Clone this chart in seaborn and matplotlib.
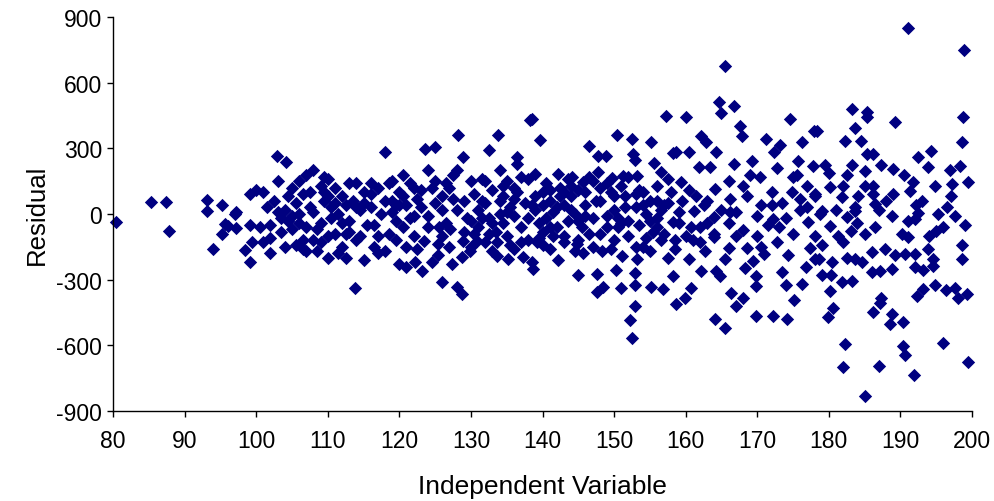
import matplotlib
matplotlib.use("Agg")
import matplotlib.pyplot as plt
import seaborn as sns
import pandas as pd

# ---- data (independent variable, residual) ----
x_a = [80.4, 85.3, 87.4, 87.8, 93.2, 93.1, 94, 95.2, 95.6, 96.1, 95.2, 97.1, 97.2, 97.2, 99.1, 99.2, 98.4, 99.2, 99.4, 100]
r_a = [-35, 56, 56, -78, 65, 15, -160, 41, -46, -53, -91, 1, 9, -64, -50, 91, -163, -218, -128, 110]

x_b = [100.5, 101, 101.5, 102, 102, 102.5, 102.9, 103, 103.5, 104.1, 104, 104.5, 104.5, 105, 105, 105.5, 105.5, 106, 106,
       106.5, 106.5, 107, 107, 107.5, 107.5, 108, 108, 108.5, 108.5, 109, 109, 109.5, 109.5, 110, 110, 110, 110.5, 110.5,
       111, 111, 111.5, 111.5, 112, 112, 112.5, 112.5, 113, 113, 113.5, 113.8, 114, 114, 114.5, 114.5, 115, 115, 115.5,
       101, 103, 105, 107, 109, 111, 113, 115, 117, 119, 118, 116, 114, 112, 110, 108, 106, 104, 102]
r_b = [-60, -130, 30, -50, -110, 60, 266, 10, -80, 236, -150, 80, -30, 120, -10, 50, -140, 150, 0,
       -120, 90, 180, -60, 100, 30, 200, 10, -170, -70, 130, -40, 60, 170, -200, 160, -100, 30, -20,
       -90, 120, 0, -180, -150, 80, -200, 40, 140, -30, 60, -338, 140, -120, -100, 20, -210, 100, -50,
       100, 150, -70, -170, -130, 50, -80, 50, -100, 60, -170, 140, 30, -40, 80, -120, -40, 20, -180]

x_c = [116, 116.5, 116.5, 117, 117, 117.5, 118, 118, 118.5, 118.5, 119, 119, 119.5, 119.5, 120, 120, 120, 120.5, 120.5,
       121, 121, 121.5, 121.5, 122, 122, 122.2, 122.5, 123, 123.2, 123.4, 123.6, 124, 124, 124.5, 124.5, 125, 125, 125.4,
       125.4, 125.9, 126, 126, 126.5, 127, 127.1, 127.3, 127.5, 128, 128, 128.2, 128.7, 128.7, 128.9, 128.9, 129, 129.5,
       129.9, 130, 130]
r_c = [30, -50, -150, 120, -180, 0, 285, 60, -90, 140, 150, 10, -30, -120, 100, -228, 40, 180, -60,
       -240, 40, 140, -20, -100, -10, -218, 70, 30, -259, -125, 297, 200, -60, -218, 120, 306, 150, -137,
       -187, -309, 80, 20, -40, 120, -68, -228, 180, -333, 200, 361, -365, -198, 260, -122, 60, -20,
       -168, 150, -30]

x_d = [130.5, 130.8, 131, 131, 131.5, 132, 132, 132.5, 132.5, 133, 133.5, 133.6, 133.6, 133.8, 134, 134, 134.5, 134.5,
       135, 135, 135.2, 135.5, 136, 136, 136.5, 136.5, 136.5, 137, 137.3, 137.5, 138, 138, 138.2, 138.5, 138.6, 138.7,
       139, 139, 139.2, 139.5, 139.7, 140, 140]
r_d = [90, -122, 20, -60, 160, -128, 50, 294, -20, 110, -80, -128, -190, 361, 200, 0, -40, 80,
       150, -100, -205, 30, -160, -10, 260, 228, 100, -60, -198, 50, 160, -120, 431, -219, 434, -251,
       183, 20, -129, -40, 338, 100, -80]

x_e = [140.5, 140.5, 141, 141, 141.5, 142, 142.2, 142.2, 142.5, 143, 143, 143.5, 143.5, 144, 144.1, 144.5, 144.8, 145,
       145, 145.5, 145.7, 145.7, 146, 146.5, 146.5, 147, 147, 147.6, 147.6, 147.8, 147.8, 148, 148.3, 148.5, 148.9, 149,
       149.5, 149.7, 150, 150, 150.3, 150.4]
r_e = [140, -20, 60, -160, 10, -60, 183, -209, 120, 40, -100, 160, -30, 80, 167, 0, -137, -279,
       110, -60, 145, -178, 40, 309, -90, 150, -20, -274, -355, 263, 190, 60, -167, -335, 263, -60,
       100, 163, -120, 20, -254, 361]

x_f = [150.9, 151, 151.1, 151.3, 151.5, 152, 152.2, 152.5, 152.5, 152.6, 152.9, 152.9, 152.9, 152.9, 153, 153.2, 153.2,
       153.5, 154, 154, 154.5, 155, 155.1, 155.2, 155.5, 155.6, 156, 156, 156.5, 156.6, 156.9, 157, 157.2, 157.5, 158,
       158.2, 158.2, 158.3, 158.5, 158.7, 158.7, 159, 159.4, 159.9, 160, 160, 160.4, 160.4]
r_f = [-339, -40, -190, 172, 80, -100, -483, 342, -568, 274, 248, -269, -324, -422, 30, 175, -205,
       -50, 100, -150, 0, 60, 327, -335, -80, 233, 130, -20, -120, 190, -342, 40, 446, -200, 100,
       279, -282, -38, -160, 282, -411, 10, 145, -385, 441, -100, 282, -205]

x_band = [120.5, 121, 122.5, 123, 124, 125, 126, 126.5, 127, 128, 129, 130.5, 131.5, 132, 133, 134, 135, 136, 137, 138,
          139, 140, 141, 142, 143, 144, 145, 146, 147, 148, 149, 150, 150.5, 151, 152, 153, 154, 155, 156, 157, 157.5,
          159, 159.5, 161, 163, 165, 167, 170, 172, 174, 176, 178, 181, 184, 187, 189, 193, 196, 199]
r_band = [80, -150, -160, 110, -10, 50, -100, 140, -150, 20, -80, -90, -20, 150, -170, 60, 10, 70, -130, -20,
          80, -140, 110, 30, -130, 20, -120, 100, -150, 120, -10, 80, -60, 130, -30, -150, 40, -30, 60, -90, 160,
          -40, 60, -120, 60, 20, 10, -100, 40, -20, 70, -100, 20, -40, 20, 90, 60, -60, -50]

x_band2 = [103.5, 106.5, 109.5, 112.5, 116, 119.5, 122, 125.5, 127.5, 130, 131.5, 133, 134.5, 135.5, 137, 138.5,
           140, 141.5, 142.5, 144, 145, 146.5, 148, 149, 150.5, 152, 153.5, 155, 156, 157.5, 158.5, 160.5, 162,
           164, 166, 168, 170.5, 173, 175, 177, 179, 182, 185, 188, 191, 194, 197,
           132.5, 136, 139.5, 143, 146, 149.5, 153, 156.5, 141, 144.5, 147.5, 151.5, 154.5]
r_band2 = [-20, -160, 100, -90, 90, 40, 120, -60, 70, -150, 60, -40, 130, -140, 170, 40,
           40, -100, 80, 130, -30, 170, -90, 140, -20, 170, 110, -170, -60, 50, -120, 110, -60,
           -90, -40, 130, -150, -60, 170, 30, -140, 130, -90, 60, -30, -100, 80,
           -90, 120, -110, 100, -10, -160, 90, 20, -60, -170, 60, 30, -110]

x_g = [160.8, 160.8, 161.1, 161.5, 161.8, 162, 162.2, 162.2, 162.5, 162.7, 162.9, 163, 163.4, 163.9, 163.9, 164.1, 164.1,
       164.3, 164.3, 164.6, 164.8, 165, 165.5, 165.5, 165.5, 166, 166.1, 166.2, 166.2, 166.3, 166.7, 166.7, 167, 167.1,
       167.6, 167.8, 168, 168, 168.3, 168.5, 168.5, 169, 169.2, 169.4, 169.8, 169.8, 169.8, 169.9, 170.4]
r_g = [-339, -61, 15, 80, 213, -130, 355, -259, 40, -167, 330, -40, 213, -15, -106, 114, -479,
       282, -259, 513, -282, 461, 677, -522, -205, 150, -157, 8, 68, -361, 492, 228, -100, -419,
       403, 358, -385, -72, -248, 84, -157, 180, 243, -213, -467, -327, -282, -8, 167]

x_h = [170.5, 171, 171.2, 171.5, 172, 172.2, 172.2, 172.3, 172.7, 172.7, 173.2, 173.5, 173.5, 174, 174.2, 174.3, 174.6,
       174.8, 175, 175.1, 175.5, 175.7, 176, 176.2, 176.3, 176.8, 176.9, 177.1, 177.4, 177.8, 177.9, 178, 178.1, 178.1,
       178.3, 178.6, 178.8, 179, 179.1, 179.5, 179.9, 180, 180.2, 180.2, 180.2, 180.3, 180.4]
r_h = [40, -183, 342, -50, 100, -467, -23, 282, 209, -129, 315, -266, 50, -324, -479, -187, 434,
       102, -91, -391, 180, 243, 20, -320, 327, -243, 129, -38, -157, 221, 378, 80, -205, 91,
       380, -205, 0, 15, -279, 225, -472, 186, -53, 122, -350, -279, -221]

x_i = [180.6, 181.3, 181.8, 181.8, 182, 182, 182.2, 182.3, 182.5, 182.5, 182.6, 183.1, 183.2, 183.2, 183.3, 183.6,
       183.6, 183.7, 183.7, 184.1, 184.5, 184.6, 185.1, 185.1, 185.1, 185.3, 185.3, 185.3, 186.1, 186.1, 186.2, 186.2,
       186.2, 186.2, 186.4, 186.4, 187, 187.1, 187.1, 187.3, 187.3, 187.8, 188.6, 188.8, 188.8, 188.8, 189, 189.2,
       189.2, 190.2, 190.3, 190.3, 190.5]
r_i = [-431, -99, 76, -312, -700, -129, -594, 335, 179, -15, -202, -76, 479, 225, -304, 393,
       15, 31, -205, 84, 335, -218, 195, 129, -830, 464, 444, 274, -266, -172, 274, 129,
       91, -446, 46, -61, -696, -406, -259, 225, -385, -160, -502, -457, -251, -11, 205, 419,
       -187, -91, -604, -492, 179]

x_j = [190.6, 190.6, 191.1, 191.1, 191.3, 191.8, 191.9, 192, 192, 192, 192.2, 192.3, 192.5, 192.5, 193.2, 193.2, 193.8,
       193.9, 194.3, 194.6, 194.6, 194.9, 194.9, 195, 195.2, 196, 196.3, 196.5, 196.9, 197.2, 197.6, 197.6, 198.1,
       198.3, 198.6, 198.6, 198.6, 198.8, 198.9, 199.3, 199.5, 199.5]
r_j = [-644, -183, 849, -106, 106, 145, -735, -183, -243, -23, 42, -376, 259, 5, -342, -254, -160,
       213, 286, -236, -205, 129, -324, -76, 0, -591, -346, 33, 201, 137, -339, -11, -385,
       221, 327, -205, -142, 444, 749, -365, 145, -674]

x_ticks = [80, 90, 100, 110, 120, 130, 140, 150, 160, 170, 180, 190, 200]
y_ticks = [-900, -600, -300, 0, 300, 600, 900]

xs = x_a + x_b + x_c + x_d + x_e + x_f + x_band + x_band2 + x_g + x_h + x_i + x_j
rs = r_a + r_b + r_c + r_d + r_e + r_f + r_band + r_band2 + r_g + r_h + r_i + r_j
df = pd.DataFrame({"Independent Variable": xs, "Residual": rs})

sns.set_theme(style="white")
plt.rcParams["font.family"] = ["Liberation Sans", "DejaVu Sans"]
plt.rcParams["axes.unicode_minus"] = False

fig = plt.figure(figsize=(9.95, 5.02), dpi=100)
ax = fig.add_axes([113 / 995, 1 - 412 / 502, (972 - 113) / 995, (412 - 18) / 502])

sns.scatterplot(data=df, x="Independent Variable", y="Residual", marker="D",
                color="#000080", s=46, linewidth=0, ax=ax, clip_on=False)

ax.set_xlim(80, 200)
ax.set_ylim(-900, 900)
ax.set_xticks(x_ticks)
ax.set_yticks(y_ticks)
ax.tick_params(axis="both", labelsize=16.5, colors="black", labelcolor="black", length=4, width=1,
               direction="out", bottom=True, left=True)
ax.tick_params(axis="x", pad=9)
ax.tick_params(axis="y", pad=4)
for side in ["top", "right"]:
    ax.spines[side].set_visible(False)
for side in ["left", "bottom"]:
    ax.spines[side].set_color("black")
    ax.spines[side].set_linewidth(1)
ax.set_xlabel("Independent Variable", fontsize=19, labelpad=16, color="black")
ax.set_ylabel("Residual", fontsize=18.5, labelpad=5, color="black")

fig.savefig("out.png", dpi=100)
